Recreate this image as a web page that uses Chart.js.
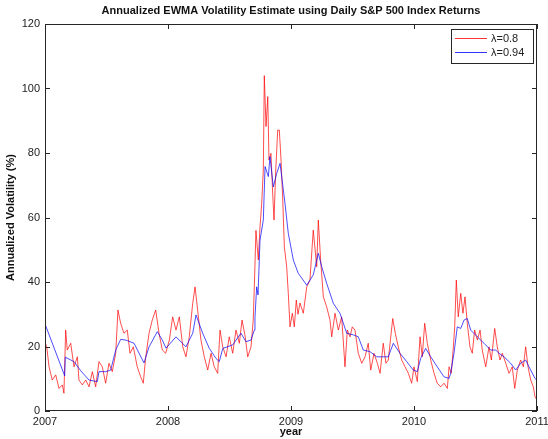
<!DOCTYPE html>
<html>
<head>
<meta charset="utf-8">
<script src="https://cdn.jsdelivr.net/npm/chart.js@4.4.1/dist/chart.umd.min.js"></script>
<style>
  html, body { margin: 0; padding: 0; background: #fff; }
  #wrap { width: 548px; height: 439px; position: relative; }
</style>
</head>
<body>
<div id="wrap"><canvas id="c" width="548" height="439"></canvas></div>
<script>
// ---------- data ----------
const chartTitle = 'Annualized EWMA Volatility Estimate using Daily S&P 500 Index Returns';
const xTitle = 'year';
const yTitle = 'Annualized Volatility (%)';
const seriesNames = ['\u03bb=0.8', '\u03bb=0.94'];
const xTicks = [2007, 2008, 2009, 2010, 2011];
const yTicks = [0, 20, 40, 60, 80, 100, 120];

const redYears = [
  2007.003, 2007.014, 2007.033, 2007.059, 2007.087, 2007.114, 2007.141, 2007.154, 2007.168, 2007.181,
  2007.209, 2007.236, 2007.263, 2007.276, 2007.303, 2007.331, 2007.358, 2007.385, 2007.412, 2007.439,
  2007.466, 2007.493, 2007.520, 2007.547, 2007.575, 2007.593, 2007.615, 2007.642, 2007.669, 2007.691,
  2007.718, 2007.750, 2007.778, 2007.799, 2007.819, 2007.846, 2007.872, 2007.900, 2007.927, 2007.954,
  2007.981,
  2008.011, 2008.038, 2008.065, 2008.092, 2008.120, 2008.146, 2008.173, 2008.201, 2008.220, 2008.241,
  2008.268, 2008.295, 2008.323, 2008.350, 2008.376, 2008.404, 2008.423, 2008.445, 2008.472, 2008.498,
  2008.526, 2008.553, 2008.580, 2008.602, 2008.628, 2008.648, 2008.675, 2008.693, 2008.703, 2008.715,
  2008.734, 2008.748, 2008.762, 2008.775, 2008.783, 2008.797, 2008.811, 2008.821, 2008.837, 2008.851,
  2008.862, 2008.876, 2008.892, 2008.905, 2008.919, 2008.933, 2008.946, 2008.965, 2008.978, 2008.992,
  2009.011, 2009.027, 2009.043, 2009.057, 2009.073, 2009.100, 2009.128, 2009.154, 2009.181, 2009.209,
  2009.222, 2009.241, 2009.263, 2009.290, 2009.317, 2009.331, 2009.358, 2009.385, 2009.412, 2009.439,
  2009.458, 2009.480, 2009.498, 2009.520, 2009.547, 2009.575, 2009.602, 2009.628, 2009.648, 2009.675,
  2009.702, 2009.724, 2009.750, 2009.772, 2009.791, 2009.827, 2009.848, 2009.872, 2009.900, 2009.927,
  2009.954, 2009.981,
  2010.000, 2010.027, 2010.049, 2010.067, 2010.087, 2010.108, 2010.136, 2010.163, 2010.189, 2010.217,
  2010.244, 2010.271, 2010.285, 2010.303, 2010.320, 2010.331, 2010.344, 2010.360, 2010.380, 2010.398,
  2010.415, 2010.433, 2010.455, 2010.474, 2010.493, 2010.515, 2010.537, 2010.555, 2010.583, 2010.610,
  2010.629, 2010.656, 2010.677, 2010.699, 2010.718, 2010.746, 2010.772, 2010.799, 2010.819, 2010.840,
  2010.867, 2010.889, 2010.908, 2010.927, 2010.949, 2010.970, 2010.984, 2010.998
];
const redVals = [
  21.0, 19.9, 13.7, 9.6, 11.2, 7.0, 8.1, 5.5, 25.1, 18.9,
  21.0, 13.7, 16.8, 9.6, 8.1, 9.6, 7.5, 12.2, 7.5, 15.3,
  13.7, 8.6, 14.8, 12.2, 17.9, 31.3, 27.2, 24.1, 25.1, 17.9,
  19.9, 13.7, 10.6, 8.6, 16.8, 24.1, 28.2, 31.3, 24.1, 18.9,
  17.9,
  22.0, 29.2, 25.1, 29.2, 19.9, 16.8, 23.0, 33.4, 38.5, 31.3,
  22.0, 16.8, 12.7, 17.9, 13.7, 11.7, 25.1, 19.9, 16.8, 23.0,
  17.9, 25.1, 21.0, 28.2, 23.0, 16.8, 19.9, 28.2, 40.0, 56.0,
  46.8, 57.1, 64.4, 74.7, 104.0, 88.2, 97.5, 77.8, 79.9, 67.5,
  59.2, 74.7, 87.1, 87.1, 77.8, 65.4, 50.9, 44.7, 36.5, 26.1,
  30.3, 26.1, 34.4, 30.0, 33.5, 30.3, 38.5, 40.6, 56.1, 44.7,
  59.2, 46.8, 35.4, 32.3, 28.2, 23.0, 30.3, 25.1, 29.2, 13.7,
  25.1, 23.0, 26.1, 25.1, 17.9, 14.8, 16.8, 21.0, 12.7, 17.9,
  14.8, 11.7, 21.0, 14.8, 15.8, 28.7, 24.1, 19.9, 15.8, 13.7,
  11.7, 8.6,
  13.7, 9.1, 23.0, 16.8, 27.2, 21.0, 15.8, 11.7, 8.6, 7.5,
  8.6, 7.0, 13.7, 11.7, 19.9, 26.1, 40.6, 29.2, 36.5, 30.3,
  35.4, 27.2, 19.9, 17.9, 25.1, 22.0, 25.1, 18.9, 13.7, 19.9,
  15.8, 25.6, 19.9, 15.8, 17.9, 14.8, 11.7, 13.7, 7.0, 12.7,
  15.8, 13.7, 19.9, 13.7, 9.6, 7.5, 4.4, 3.5
];

const blueYears = [
  2007.003, 2007.160, 2007.165, 2007.236, 2007.290, 2007.358, 2007.425, 2007.439, 2007.493, 2007.534,
  2007.575, 2007.615, 2007.656, 2007.724, 2007.805, 2007.846, 2007.913, 2007.954, 2007.984,
  2008.065, 2008.146, 2008.201, 2008.228, 2008.282, 2008.336, 2008.390, 2008.417, 2008.445, 2008.526,
  2008.593, 2008.634, 2008.675, 2008.702, 2008.707, 2008.721, 2008.732, 2008.748, 2008.775, 2008.789,
  2008.816, 2008.829, 2008.856, 2008.884, 2008.911, 2008.951, 2008.978,
  2009.019, 2009.059, 2009.073, 2009.128, 2009.181, 2009.222, 2009.250, 2009.290, 2009.344, 2009.398,
  2009.453, 2009.507, 2009.547, 2009.588, 2009.642, 2009.697, 2009.750, 2009.791, 2009.832, 2009.886,
  2009.941, 2009.994,
  2010.027, 2010.054, 2010.095, 2010.136, 2010.189, 2010.244, 2010.285, 2010.298, 2010.325, 2010.352,
  2010.380, 2010.407, 2010.433, 2010.461, 2010.515, 2010.569, 2010.624, 2010.664, 2010.691, 2010.732,
  2010.786, 2010.827, 2010.867, 2010.908, 2010.935, 2010.984, 2010.998
];
const blueVals = [
  26.7, 10.9, 16.7, 15.3, 12.5, 9.6, 9.1, 12.2, 12.2, 12.7,
  18.9, 22.2, 22.0, 21.0, 14.9, 19.9, 24.6, 22.0, 19.5,
  23.0, 19.9, 24.1, 29.8, 24.1, 19.4, 16.3, 15.3, 19.4, 20.5,
  24.1, 21.5, 22.0, 25.1, 29.0, 38.5, 36.0, 53.0, 59.2, 75.8,
  72.7, 78.9, 69.5, 73.7, 76.8, 64.4, 55.1,
  46.8, 42.7, 42.0, 39.0, 42.2, 48.9, 44.7, 39.6, 33.4, 30.3,
  24.1, 23.6, 23.0, 18.9, 18.4, 16.8, 16.8, 16.8, 21.0, 17.9,
  15.3, 12.7,
  12.2, 16.3, 19.4, 16.8, 13.7, 10.6, 10.1, 11.7, 17.9, 26.1,
  25.6, 28.2, 28.7, 25.1, 23.0, 21.0, 18.9, 18.9, 17.9, 16.8,
  14.8, 12.7, 14.8, 15.8, 13.7, 10.1, 9.6
];

// ---------- chart ----------
const FONT = '"Liberation Sans", Arial, Helvetica, sans-serif';
const AX = '#262626';

const framePlugin = {
  id: 'frame',
  afterDatasetsDraw(chart) {
    const { ctx, chartArea: a, scales } = chart;
    const xs = scales.x, ys = scales.y;
    ctx.save();
    // title centred over the plot area
    ctx.fillStyle = '#111';
    ctx.font = 'bold 11px ' + FONT;
    ctx.textAlign = 'center';
    ctx.textBaseline = 'middle';
    ctx.fillText(chartTitle, (a.left + a.right) / 2, 11);

    ctx.strokeStyle = AX;
    ctx.lineWidth = 1;
    ctx.strokeRect(Math.round(a.left) + 0.5, Math.round(a.top) + 0.5,
      Math.round(a.right - a.left) - 1, Math.round(a.bottom - a.top) - 1);
    const tl = 5;
    ctx.beginPath();
    xTicks.forEach(v => {
      const px = Math.round(xs.getPixelForValue(v)) + 0.5;
      ctx.moveTo(px, a.bottom); ctx.lineTo(px, a.bottom - tl);
      ctx.moveTo(px, a.top); ctx.lineTo(px, a.top + tl);
    });
    yTicks.forEach(v => {
      const py = Math.round(ys.getPixelForValue(v)) + 0.5;
      ctx.moveTo(a.left, py); ctx.lineTo(a.left + tl, py);
      ctx.moveTo(a.right, py); ctx.lineTo(a.right - tl, py);
    });
    ctx.stroke();

    // legend (MATLAB style, inside top-right)
    const lw = 82, lh = 34;
    const lx = Math.round(a.right) - 4 - lw, ly = Math.round(a.top) + 5;
    ctx.fillStyle = '#fff';
    ctx.fillRect(lx, ly, lw, lh);
    ctx.strokeStyle = AX;
    ctx.strokeRect(lx + 0.5, ly + 0.5, lw, lh);
    ctx.font = '11px ' + FONT;
    ctx.textBaseline = 'middle';
    ctx.textAlign = 'left';
    chart.data.datasets.forEach((ds, i) => {
      const yy = ly + 9.5 + i * 14;
      ctx.strokeStyle = ds.borderColor;
      ctx.lineWidth = 0.8;
      ctx.beginPath();
      ctx.moveTo(lx + 4, yy); ctx.lineTo(lx + 36, yy);
      ctx.stroke();
      ctx.fillStyle = '#222';
      ctx.fillText(ds.label, lx + 40, yy);
    });
    ctx.restore();
  }
};

new Chart(document.getElementById('c'), {
  type: 'line',
  data: {
    datasets: [
      {
        label: seriesNames[0],
        data: redYears.map((x, i) => ({ x, y: redVals[i] })),
        borderColor: '#ff0000',
        borderWidth: 0.7,
        pointRadius: 0,
        tension: 0,
        order: 2
      },
      {
        label: seriesNames[1],
        data: blueYears.map((x, i) => ({ x, y: blueVals[i] })),
        borderColor: '#0000ff',
        borderWidth: 0.7,
        pointRadius: 0,
        tension: 0,
        order: 1
      }
    ]
  },
  options: {
    responsive: false,
    animation: false,
    layout: { padding: { left: 0, right: 11, top: 24, bottom: 0 } },
    plugins: {
      legend: { display: false },
      tooltip: { enabled: false },
      title: { display: false }
    },
    scales: {
      x: {
        type: 'linear',
        min: 2007, max: 2011,
        grid: { display: false, drawTicks: false },
        border: { display: false },
        afterBuildTicks: s => { s.ticks = xTicks.map(v => ({ value: v })); },
        ticks: {
          color: '#222',
          font: { family: FONT, size: 11 },
          padding: 4,
          maxRotation: 0,
          autoSkip: false,
          callback: v => String(v)
        },
        title: {
          display: true, text: xTitle, color: '#111',
          font: { family: FONT, size: 11, weight: 'bold' },
          padding: { top: 0, bottom: 0 }
        },
        afterFit: s => { s.height = 28; s.paddingLeft = 0; s.paddingRight = 0; }
      },
      y: {
        min: 0, max: 120,
        grid: { display: false, drawTicks: false },
        border: { display: false },
        afterBuildTicks: s => { s.ticks = yTicks.map(v => ({ value: v })); },
        ticks: {
          color: '#222',
          font: { family: FONT, size: 11 },
          padding: 5,
          callback: v => String(v)
        },
        title: {
          display: true, text: yTitle, color: '#111',
          font: { family: FONT, size: 11, weight: 'bold' },
          padding: { top: 4, bottom: 0 }
        },
        afterFit: s => { s.width = 45; s.paddingTop = 0; s.paddingBottom = 0; }
      }
    }
  },
  plugins: [framePlugin]
});
</script>
</body>
</html>
